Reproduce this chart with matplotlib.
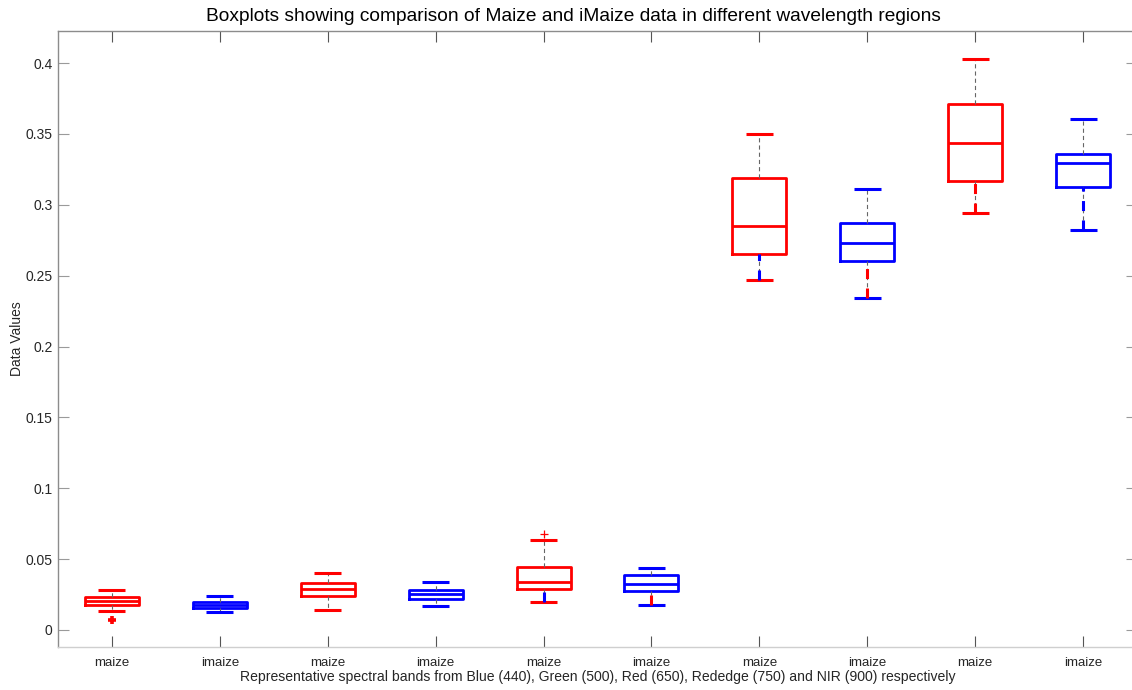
import matplotlib
matplotlib.use("Agg")
import matplotlib.pyplot as plt
import numpy as np

plt.rcParams["font.family"] = ["Liberation Sans", "DejaVu Sans"]
plt.rcParams["lines.scale_dashes"] = False

# ================================
# Box statistics per band (maize / imaize alternating)
# ================================
labels = ["maize", "imaize"] * 5
whisker_low = [0.0134, 0.0127, 0.0141, 0.0169, 0.0198, 0.0176, 0.2469, 0.2342, 0.2942, 0.2822]
q1 = [0.0176, 0.0152, 0.0240, 0.0219, 0.0289, 0.0275, 0.2653, 0.2603, 0.3168, 0.3125]
median = [0.0205, 0.0176, 0.0289, 0.0254, 0.0339, 0.0325, 0.2850, 0.2730, 0.3436, 0.3295]
q3 = [0.0233, 0.0201, 0.0332, 0.0282, 0.0444, 0.0388, 0.3189, 0.2871, 0.3710, 0.3358]
whisker_high = [0.0282, 0.0240, 0.0402, 0.0339, 0.0635, 0.0437, 0.3500, 0.3111, 0.4028, 0.3605]
outliers = [[0.0070], [], [], [], [0.0677], [], [], [], [], []]

box_colors = ["red", "blue"] * 5
# colour of the thick dashed segment drawn over each lower whisker
lower_overlay = [None, None, None, None, "blue", "red", "blue", "red", "red", "blue"]
flier_width = [2.6, 1, 1, 1, 0.9, 1, 1, 1, 1, 1]

stats = []
for i in range(len(labels)):
    stats.append({
        "label": labels[i],
        "whislo": whisker_low[i],
        "q1": q1[i],
        "med": median[i],
        "q3": q3[i],
        "whishi": whisker_high[i],
        "fliers": np.array(outliers[i]),
    })

fig = plt.figure(figsize=(11.32, 6.9), dpi=100)
ax = fig.add_axes([58 / 1132, 43 / 690, 1079 / 1132, 616 / 690])

positions = np.arange(1, len(labels) + 1)
bp = ax.bxp(
    stats,
    positions=positions,
    widths=0.5,
    capwidths=0.25,
    whiskerprops=dict(color="#666666", linewidth=0.8, linestyle=(0, (3, 2.2))),
    flierprops=dict(marker="+", markersize=6),
)

for i, col in enumerate(box_colors):
    bp["boxes"][i].set(color=col, linewidth=2.0)
    bp["medians"][i].set(color=col, linewidth=2.0)
    for cap in bp["caps"][2 * i:2 * i + 2]:
        cap.set(color=col, linewidth=2.2, solid_capstyle="butt")
    fl = bp["fliers"][i]
    fl.set(markeredgecolor=col, markeredgewidth=flier_width[i])

# thick dashed lower whiskers, drawn from the cap up to the box
for i, col in enumerate(lower_overlay):
    if col is None:
        continue
    ax.plot([positions[i], positions[i]], [whisker_low[i], q1[i]],
            color=col, linewidth=2.2, dashes=(7.2, 6.8),
            dash_capstyle="butt", zorder=3)

ax.set_xlim(0.5, 10.5)
ax.set_ylim(-0.012, 0.4226)
ax.set_xticks(positions)
ax.set_xticklabels(labels)
yt = np.arange(0, 0.41, 0.05)
ax.set_yticks(yt)
ax.set_yticklabels([f"{v:g}" for v in yt])

ax.tick_params(axis="both", direction="in", length=8, labelsize=10,
               labelcolor="#262626", top=True, right=True)
ax.tick_params(axis="y", color="#9a9a9a", pad=4)
ax.tick_params(axis="x", color="#555555", pad=7, labelsize=9.5)

ax.spines["left"].set_color("#8c8c8c")
ax.spines["top"].set_color("#8c8c8c")
ax.spines["right"].set_color("#8c8c8c")
ax.spines["bottom"].set_color("#cfcfcf")
for s in ax.spines.values():
    s.set_linewidth(1.0)

ax.set_xlabel("Representative spectral bands from Blue (440), Green (500), Red (650), "
              "Rededge (750) and NIR (900) respectively", fontsize=10.1, color="#262626", labelpad=1)
ax.set_ylabel("Data Values", fontsize=10, color="#262626")
ax.yaxis.set_label_coords((24 - 58) / 1079, 0.5)
ax.set_title("Boxplots showing comparison of Maize and iMaize data in different wavelength regions",
             fontsize=13.8, x=0.478, pad=7)

fig.savefig("out.png", dpi=100)
